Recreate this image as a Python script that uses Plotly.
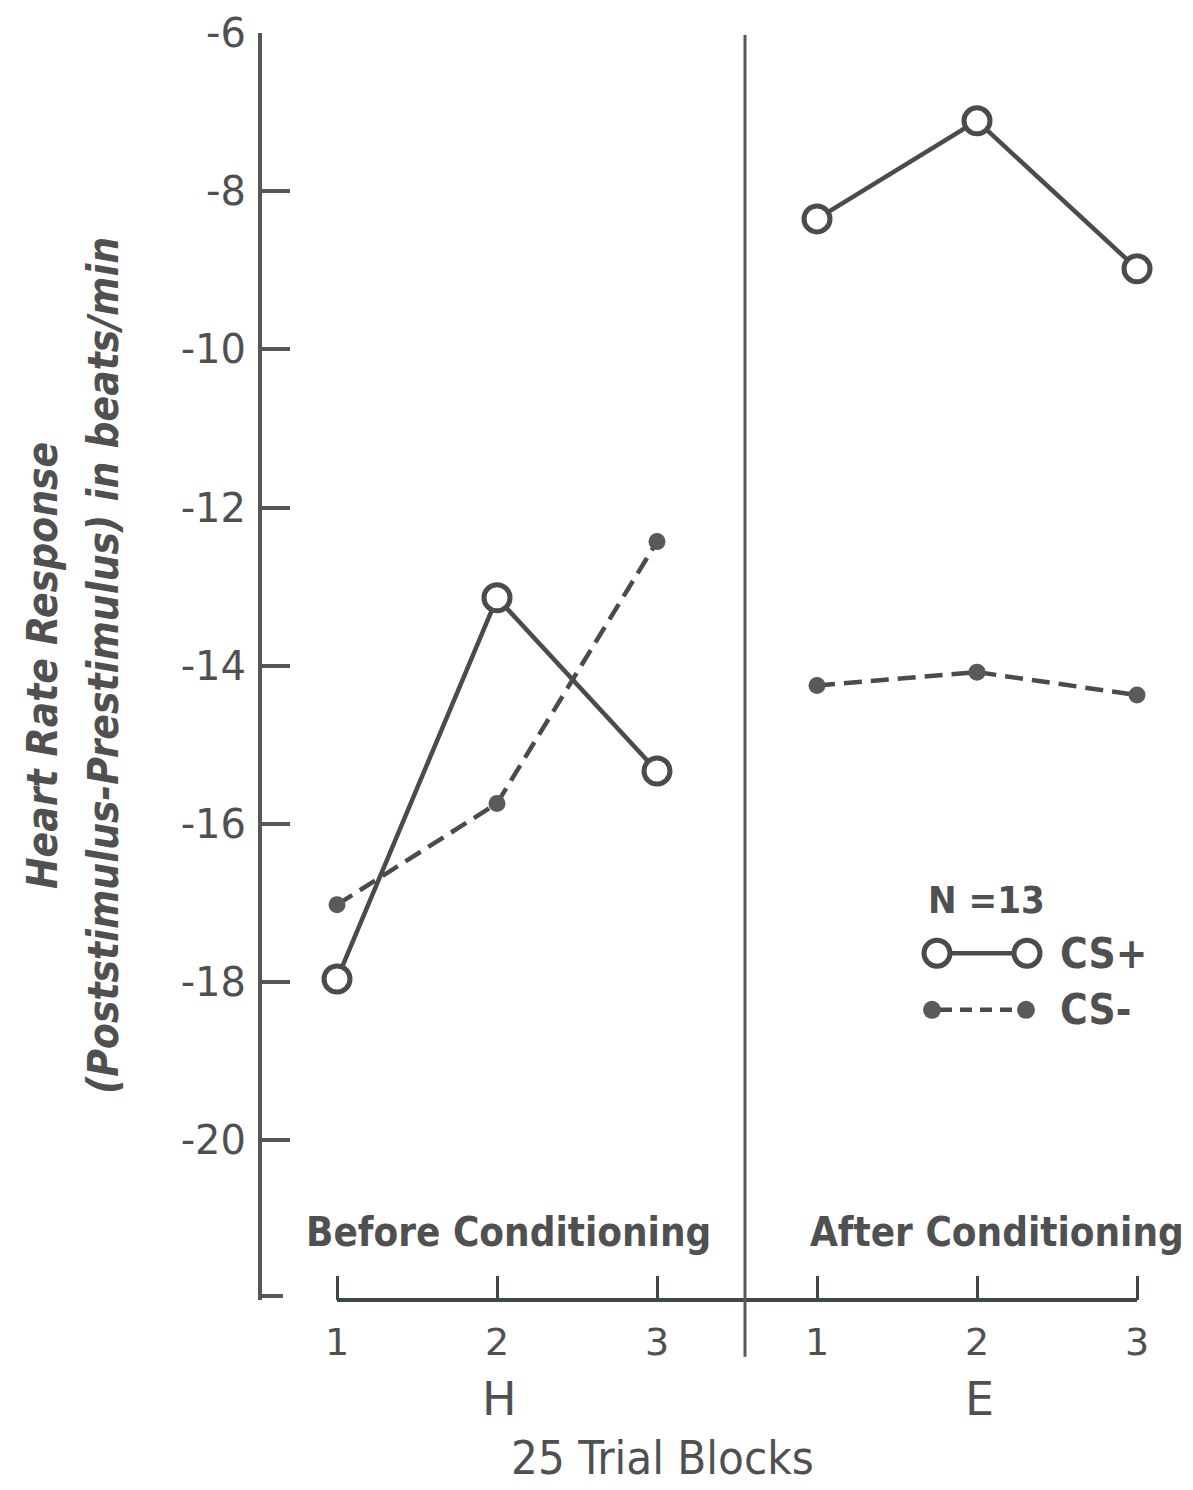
import plotly.graph_objects as go

# Trial blocks (25 trials each): H = before conditioning, E = after conditioning
block_pos = [1, 2, 3, 4, 5, 6]
block_labels = ["1", "2", "3", "1", "2", "3"]
phase_labels = ["H", "E"]

# Mean heart rate response (poststimulus - prestimulus), beats/min
cs_plus_before = [-17.96, -13.14, -15.33]
cs_plus_after = [-8.35, -7.11, -8.98]
cs_minus_before = [-17.02, -15.74, -12.43]
cs_minus_after = [-14.25, -14.08, -14.37]

y_ticks = [-6, -8, -10, -12, -14, -16, -18, -20]

W, H = 1193, 1490
ML, MR, MT, MB = 262, 10, 25, 190
PW, PH = W - ML - MR, H - MT - MB


def px(xp):
    return (xp - ML) / PW


def py(yp):
    return (H - MB - yp) / PH


INK = "#4b4b4b"
AXIS = "#575757"
BASE = "#3e4a3e"
TXT = "#505050"
NARROW = "DejaVu Sans Condensed, Liberation Sans Narrow, DejaVu Sans, sans-serif"
PLAIN = "DejaVu Sans, sans-serif"

xb = block_pos[:3]
xa = block_pos[3:]

fig = go.Figure()

fig.add_trace(go.Scatter(
    x=xb + [None] + xa, y=cs_minus_before + [None] + cs_minus_after,
    mode="lines+markers", connectgaps=False,
    line=dict(color=INK, width=4.5, dash="18px,9px"),
    marker=dict(symbol="circle", size=17, color="#5a5a5a", line=dict(width=0)),
    showlegend=False, name="CS-"))

fig.add_trace(go.Scatter(
    x=xb + [None] + xa, y=cs_plus_before + [None] + cs_plus_after,
    mode="lines+markers", connectgaps=False,
    line=dict(color=INK, width=4.5),
    marker=dict(symbol="circle", size=26, color="white",
                line=dict(color=INK, width=5)),
    showlegend=False, name="CS+"))

shapes = []
# x baseline across the trial blocks
shapes.append(dict(type="line", xref="x", yref="paper", x0=block_pos[0], x1=block_pos[-1],
                   y0=0, y1=0, line=dict(color=BASE, width=4)))
# phase divider
shapes.append(dict(type="line", xref="paper", yref="paper", x0=px(745), x1=px(745),
                   y0=py(1357), y1=py(27), line=dict(color=AXIS, width=3)))
# foot of the y-axis bracket
shapes.append(dict(type="line", xref="paper", yref="paper", x0=0, x1=px(283),
                   y0=py(1296), y1=py(1296), line=dict(color=AXIS, width=4)))

# legend keys
r1, r2 = py(951), py(1008)
shapes.append(dict(type="line", xref="paper", yref="paper", x0=px(951), x1=px(1013),
                   y0=r1, y1=r1, line=dict(color=INK, width=4.5)))
for cx in (937, 1027):
    shapes.append(dict(type="circle", xref="paper", yref="paper", xsizemode="pixel",
                       ysizemode="pixel", xanchor=px(cx), yanchor=r1,
                       x0=-13, x1=13, y0=-13, y1=13,
                       fillcolor="white", line=dict(color=INK, width=5)))
shapes.append(dict(type="line", xref="paper", yref="paper", x0=px(940), x1=px(1018),
                   y0=r2, y1=r2, line=dict(color=INK, width=4.5, dash="12px,8px")))
for cx in (932, 1026):
    shapes.append(dict(type="circle", xref="paper", yref="paper", xsizemode="pixel",
                       ysizemode="pixel", xanchor=px(cx), yanchor=r2,
                       x0=-9, x1=9, y0=-9, y1=9,
                       fillcolor="#5a5a5a", line=dict(width=0)))


def label(text, xp, yp, size, family=NARROW, anchor="center", angle=0):
    return dict(text=text, x=px(xp), y=py(yp), xref="paper", yref="paper",
                xanchor=anchor, yanchor="middle", textangle=angle, showarrow=False,
                font=dict(family=family, size=size, color=TXT))


annotations = [
    label("<b>Before Conditioning</b>", 508, 1232, 40),
    label("<b>After Conditioning</b>", 997, 1232, 40),
    label(phase_labels[0], 499, 1400, 46, PLAIN),
    label(phase_labels[1], 979, 1400, 46, PLAIN),
    label("25 Trial Blocks", 662, 1458, 47),
    label("<b><i>Heart Rate Response</i></b>", 42, 662, 42, angle=-90),
    label("<b><i>(Poststimulus-Prestimulus) in beats/min</i></b>", 103, 662, 42, angle=-90),
    label("<b>N =13</b>", 926, 897, 38, anchor="left"),
    label("<b>CS+</b>", 1058, 951, 42, anchor="left"),
    label("<b>CS-</b>", 1058, 1008, 42, anchor="left"),
]

fig.update_layout(
    width=W, height=H,
    margin=dict(l=ML, r=MR, t=MT, b=MB),
    paper_bgcolor="white", plot_bgcolor="white",
    shapes=shapes, annotations=annotations,
    xaxis=dict(range=[1 - 75 / 160, 1 + (1183 - 337) / 160],
               tickvals=block_pos, ticktext=block_labels,
               ticks="inside", ticklen=24, tickwidth=3, tickcolor=BASE,
               showline=False, showgrid=False, zeroline=False,
               ticklabelstandoff=16,
               tickfont=dict(family=PLAIN, size=38, color=TXT)),
    yaxis=dict(range=[-6 - (H - MB - MT) / 79.6, -6],
               tickvals=y_ticks, ticktext=[f"-{abs(v)}" for v in y_ticks],
               ticks="inside", ticklen=28, tickwidth=4, tickcolor=AXIS,
               showline=True, linewidth=4, linecolor=AXIS,
               showgrid=False, zeroline=False,
               ticklabelstandoff=4,
               tickfont=dict(family=PLAIN, size=40, color=TXT)),
)

fig.write_html("out.html")
